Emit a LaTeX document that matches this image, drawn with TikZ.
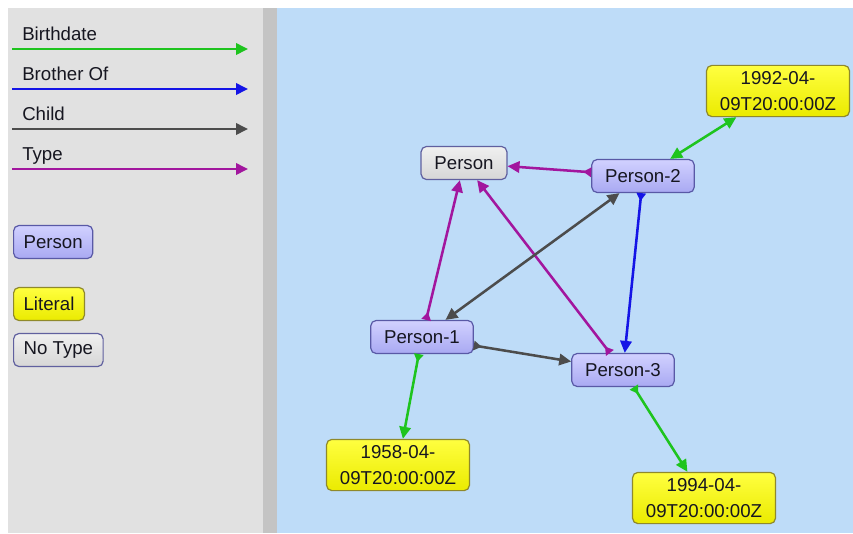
\documentclass[tikz,border=0pt]{standalone}
\usepackage{fontspec}
\setmainfont{Liberation Sans}
\usetikzlibrary{arrows.meta}
\definecolor{panel}{HTML}{E1E1E1}
\definecolor{splitter}{HTML}{C4C4C4}
\definecolor{canvas}{HTML}{BEDCF8}
\definecolor{bdate}{HTML}{1EC41E}
\definecolor{brother}{HTML}{1414E6}
\definecolor{child}{HTML}{4C4C4C}
\definecolor{typeof}{HTML}{A2169E}
\definecolor{txt}{HTML}{161620}
\tikzset{
  box/.style={rounded corners=4pt, line width=0.9pt, inner ysep=3pt, align=center,
    text=txt, minimum height=24.75pt, font=\fontsize{14}{19.5}\selectfont},
  person/.style={box, draw=blue!30!gray, top color=blue!18!white, bottom color=blue!32!white!90!gray, inner xsep=10pt},
  literal/.style={box, draw=olive!70!gray, top color=yellow!75!white, bottom color=yellow!92!black, inner xsep=10pt, inner ysep=4.5pt},
  notype/.style={box, draw=gray!75!blue, top color=gray!12, bottom color=gray!32, inner xsep=10pt},
  legendbox/.style={inner xsep=7.5pt},
  legendtext/.style={anchor=base west, inner sep=0pt, text=txt, font=\fontsize{14}{16}\selectfont},
  head/.style={line width=1.9pt, -{Triangle[length=9pt,width=8.5pt]}},
  rel/.style={line width=1.9pt, {Triangle[reversed,length=6pt,width=7pt]}-{Triangle[length=9pt,width=8.5pt]}},
  biarrow/.style={line width=1.9pt, {Triangle[length=9pt,width=8.5pt]}-{Triangle[length=9pt,width=8.5pt]}}
}
\begin{document}
\begin{tikzpicture}[x=0.75pt,y=-0.75pt]
\useasboundingbox (0,0) rectangle (853,533);
% panels
\fill[white] (0,0) rectangle (853,533);
\fill[panel] (8,8) rectangle (263,533);
\fill[splitter] (263,8) rectangle (277,533);
\fill[canvas] (277,8) rectangle (853,533);

% legend of relations
\node[legendtext] (lbdate) at (22,40) {Birthdate};
\node[legendtext] (lbrother) at (22,80) {Brother Of};
\node[legendtext] (lchild) at (22,120) {Child};
\node[legendtext] (ltype) at (22,160) {Type};
\coordinate (b0) at (12,49);  \coordinate (b1) at (248,49);
\coordinate (r0) at (12,89);  \coordinate (r1) at (248,89);
\coordinate (c0) at (12,129); \coordinate (c1) at (248,129);
\coordinate (t0) at (12,169); \coordinate (t1) at (248,169);
\draw[head, bdate] (b0) -- (b1);
\draw[head, brother] (r0) -- (r1);
\draw[head, child] (c0) -- (c1);
\draw[head, typeof] (t0) -- (t1);

% legend of node kinds
\node[person, legendbox, anchor=west] (kperson) at (13,242) {Person};
\node[literal, legendbox, inner ysep=3pt, anchor=west] (kliteral) at (13,304) {Literal};
\node[notype, legendbox, anchor=west] (knotype) at (13,350) {No Type};

% graph nodes
\node[notype] (cls) at (464,163) {Person};
\node[person] (p2) at (643,176) {Person-2};
\node[person] (p1) at (422,337) {Person-1};
\node[person] (p3) at (623,370) {Person-3};
\node[literal] (d92) at (778,91) {1992-04-\\09T20:00:00Z};
\node[literal] (d58) at (398,465) {1958-04-\\09T20:00:00Z};
\node[literal] (d94) at (704,498) {1994-04-\\09T20:00:00Z};

% type
\draw[rel, typeof] (p1) -- (cls);
\draw[rel, typeof] (p3) -- (cls);
\draw[rel, typeof] (p2) -- (cls);
% brother of
\draw[rel, brother] (p2) -- (p3);
% child
\draw[rel, child] (p1) -- (p3);
\draw[biarrow, child] (p2) -- (p1);
% birthdate
\draw[rel, bdate] (p1) -- (d58);
\draw[rel, bdate] (p3) -- (d94);
\draw[biarrow, bdate] (p2) -- (d92);
\end{tikzpicture}
\end{document}
